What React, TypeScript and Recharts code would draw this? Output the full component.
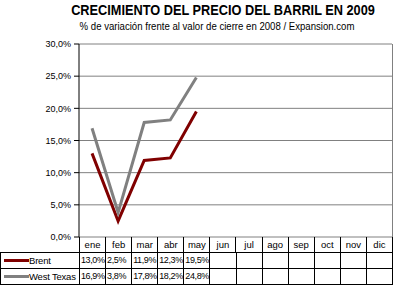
import { LineChart, Line, XAxis, YAxis, CartesianGrid } from 'recharts'

const months = ['ene', 'feb', 'mar', 'abr', 'may', 'jun', 'jul', 'ago', 'sep', 'oct', 'nov', 'dic']
const brent = [13.0, 2.5, 11.9, 12.3, 19.5]
const westTexas = [16.9, 3.8, 17.8, 18.2, 24.8]
const yTicks = [0, 5, 10, 15, 20, 25, 30]

const series = [
  { key: 'brent', name: 'Brent', color: '#800000', values: brent },
  { key: 'wt', name: 'West Texas', color: '#808080', values: westTexas },
]

const data = months.map((m, i) => ({ month: m, brent: brent[i] ?? null, wt: westTexas[i] ?? null }))

const fmt = (v: number) => v.toFixed(1).replace('.', ',') + '%'

const PLOT_LEFT = 79
const PLOT_RIGHT = 392
const colW = (PLOT_RIGHT - PLOT_LEFT) / months.length
const font = 'Arial, "Liberation Sans", sans-serif'

export default function App() {
  return (
    <div style={{ position: 'fixed', top: 0, left: 0, width: 395, height: 285, background: '#fff', fontFamily: font, color: '#000', overflow: 'hidden' }}>
      <div style={{ position: 'absolute', top: 1, left: 23, width: 400, textAlign: 'center', fontSize: 15, fontWeight: 'bold', whiteSpace: 'nowrap', transform: 'scaleX(0.85)', transformOrigin: 'center' }}>
        CRECIMIENTO DEL PRECIO DEL BARRIL EN 2009
      </div>
      <div style={{ position: 'absolute', top: 21, left: 17, width: 400, textAlign: 'center', fontSize: 10, whiteSpace: 'nowrap', transform: 'scaleX(0.96)', transformOrigin: 'center' }}>
        % de variación frente al valor de cierre en 2008 / Expansion.com
      </div>

      <div style={{ position: 'absolute', top: 0, left: 0 }}>
        <LineChart width={395} height={250} data={data} margin={{ top: 44, right: 3, bottom: 13, left: 0 }}>
          <CartesianGrid vertical={false} stroke="#808080" />
          <XAxis dataKey="month" hide scale="band" />
          <YAxis
            width={79}
            domain={[0, 30]}
            ticks={yTicks}
            tickFormatter={fmt}
            tickSize={5}
            tickMargin={3}
            axisLine={{ stroke: '#000' }}
            tickLine={{ stroke: '#000' }}
            tick={{ fontSize: 9, fill: '#000', fontFamily: font }}
            interval={0}
          />
          {series.map(s => (
            <Line
              key={s.key}
              dataKey={s.key}
              name={s.name}
              type="linear"
              stroke={s.color}
              strokeWidth={3}
              dot={false}
              isAnimationActive={false}
            />
          ))}
        </LineChart>
      </div>

      {/* right border of plot */}
      <div style={{ position: 'absolute', left: PLOT_RIGHT, top: 44, width: 1, height: 193, background: '#808080' }} />

      {/* data table */}
      <div style={{ position: 'absolute', left: PLOT_LEFT, top: 237, width: PLOT_RIGHT - PLOT_LEFT + 1, height: 16, borderLeft: '1px solid #000', boxSizing: 'border-box' }}>
        {months.map((m, i) => (
          <div key={m} style={{ position: 'absolute', left: i * colW, top: 0, width: colW, height: 16, borderRight: '1px solid #000', boxSizing: 'border-box', fontSize: 9.5, textAlign: 'center', lineHeight: '16px' }}>
            {m}
          </div>
        ))}
      </div>
      {series.map((s, r) => (
        <div key={s.key} style={{ position: 'absolute', left: 0, top: 252 + r * 16, width: PLOT_RIGHT + 1, height: 17, border: '1px solid #000', boxSizing: 'border-box' }}>
          <div style={{ position: 'absolute', left: 3, top: 6, width: 25, height: 3, background: s.color }} />
          <div style={{ position: 'absolute', left: 28, top: 0, fontSize: 9.5, lineHeight: '16px', whiteSpace: 'nowrap', letterSpacing: -0.2 }}>{s.name}</div>
          {months.map((m, i) => (
            <div key={m} style={{ position: 'absolute', left: PLOT_LEFT - 1 + i * colW, top: 0, width: colW, height: 15, borderLeft: '1px solid #000', boxSizing: 'border-box', fontSize: 9, lineHeight: '15px', letterSpacing: -0.4, whiteSpace: 'nowrap', overflow: 'hidden', paddingLeft: 1 }}>
              {s.values[i] !== undefined ? fmt(s.values[i]) : ''}
            </div>
          ))}
        </div>
      ))}
    </div>
  )
}
